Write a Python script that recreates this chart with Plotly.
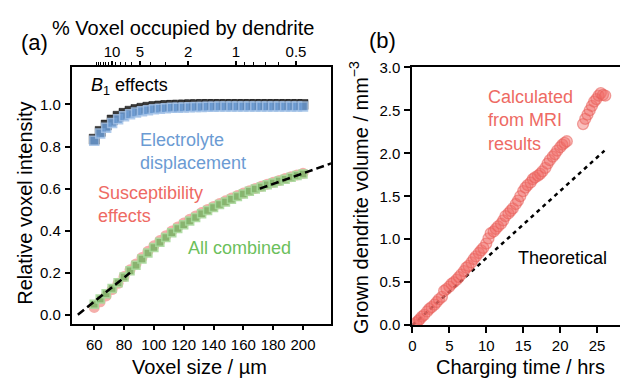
import plotly.graph_objects as go

W, H = 621, 381
FONT = "Liberation Sans, Arial, Helvetica, sans-serif"

# ---------------- Panel (a) data ----------------
voxel_size = [60, 64, 68, 72, 76, 80, 84, 88, 92, 96, 100, 104, 108, 112, 116, 120,
              124, 128, 132, 136, 140, 144, 148, 152, 156, 160, 164, 168, 172, 176,
              180, 184, 188, 192, 196, 200]
b1_effects = [0.835, 0.872, 0.902, 0.926, 0.944, 0.958, 0.968, 0.976, 0.982, 0.987,
              0.990, 0.993, 0.995, 0.996, 0.997, 0.998, 0.999, 0.999, 1.0, 1.0, 1.0,
              1.0, 1.0, 1.0, 1.0, 1.0, 1.0, 1.0, 1.0, 1.0, 1.0, 1.0, 1.0, 1.0, 1.0, 1.0]
electrolyte = [0.828, 0.862, 0.89, 0.912, 0.93, 0.944, 0.954, 0.962, 0.968, 0.973,
               0.977, 0.980, 0.982, 0.984, 0.985, 0.986, 0.987, 0.988, 0.988, 0.989,
               0.989, 0.99, 0.99, 0.99, 0.99, 0.99, 0.99, 0.99, 0.99, 0.99, 0.99, 0.99,
               0.99, 0.99, 0.99, 0.99]
susceptibility = [0.035, 0.062, 0.09, 0.12, 0.15, 0.182, 0.214, 0.242, 0.272, 0.302,
                  0.328, 0.353, 0.376, 0.398, 0.418, 0.436, 0.454, 0.47, 0.486, 0.501,
                  0.515, 0.529, 0.542, 0.555, 0.567, 0.579, 0.59, 0.601, 0.611, 0.621,
                  0.63, 0.639, 0.648, 0.657, 0.665, 0.673]
all_combined = [0.05, 0.075, 0.1, 0.125, 0.152, 0.18, 0.21, 0.236, 0.265, 0.294, 0.32,
                0.345, 0.368, 0.39, 0.41, 0.428, 0.446, 0.463, 0.48, 0.496, 0.51, 0.524,
                0.537, 0.55, 0.563, 0.575, 0.587, 0.598, 0.608, 0.618, 0.627, 0.636,
                0.645, 0.654, 0.662, 0.67]
fit_low_x = [49, 84]
fit_low_y = [0.0, 0.2]
fit_high_x = [171, 219]
fit_high_y = [0.6, 0.72]

top_tick_labels = ["10", "5", "2", "1", "0.5"]
top_tick_pct = [10, 5, 2, 1, 0.5]
top_minor_pct = [16, 15, 14, 13, 12, 11, 9, 8, 7, 6, 4, 3, 0.9, 0.8, 0.7, 0.6]
pct_scale = 155.0  # voxel size (um) at which dendrite occupies 1 %

# ---------------- Panel (b) data ----------------
charge_time = [0.2, 0.5, 0.8, 1.0, 1.3, 1.6, 2.0, 2.3, 2.6, 3.0, 3.3, 3.6, 4.0, 4.3,
               4.6, 5.0, 5.3, 5.6, 6.0, 6.3, 6.6, 7.0, 7.3, 7.6, 8.0, 8.3, 8.6, 9.0,
               9.3, 9.6, 10.0, 10.3, 10.6, 11.0, 11.3, 11.6, 12.0, 12.3, 12.6, 13.0,
               13.3, 13.6, 14.0, 14.3, 14.6, 15.0, 15.3, 15.6, 16.0, 16.3, 16.6, 17.0,
               17.3, 17.6, 18.0, 18.3, 18.6, 19.0, 19.3, 19.6, 20.0, 20.3, 20.6, 20.9,
               23.1, 23.4, 23.7, 24.0, 24.3, 24.6, 24.9, 25.2, 25.5, 25.8, 26.1]
dendrite_vol = [0.01, 0.03, 0.05, 0.07, 0.1, 0.12, 0.16, 0.19, 0.21, 0.24, 0.27, 0.3,
                0.33, 0.4, 0.42, 0.45, 0.48, 0.5, 0.53, 0.56, 0.59, 0.63, 0.67, 0.69,
                0.73, 0.77, 0.8, 0.84, 0.87, 0.9, 0.95, 1.01, 1.07, 1.09, 1.12, 1.15,
                1.18, 1.22, 1.27, 1.3, 1.33, 1.36, 1.41, 1.45, 1.5, 1.56, 1.6, 1.63,
                1.66, 1.7, 1.72, 1.74, 1.76, 1.79, 1.83, 1.88, 1.92, 1.96, 1.99, 2.03,
                2.07, 2.1, 2.12, 2.14,
                2.34, 2.4, 2.45, 2.5, 2.55, 2.6, 2.63, 2.67, 2.7, 2.68, 2.67]
theory_x = [0, 26]
theory_y = [0.0, 2.03]


def px(x):
    return min(max(x / W, 0.0), 1.0)


def py(y):
    return min(max(1 - y / H, 0.0), 1.0)


fig = go.Figure()

RED = "#ee6a63"
BLUE = "#6b9bd3"
GREEN = "#6cbf5c"

# Panel (a) traces
fig.add_trace(go.Scatter(x=voxel_size, y=b1_effects, mode="markers",
                         marker=dict(symbol="square", size=10, color="#3a3a3a",
                                     line=dict(width=0.5, color="#111111")),
                         xaxis="x", yaxis="y", showlegend=False))
fig.add_trace(go.Scatter(x=voxel_size, y=electrolyte, mode="markers",
                         marker=dict(symbol="square", size=9, color=BLUE, opacity=0.85,
                                     line=dict(width=1.5, color="#a3c2e8")),
                         xaxis="x", yaxis="y", showlegend=False))
fig.add_trace(go.Scatter(x=voxel_size, y=susceptibility, mode="markers",
                         marker=dict(symbol="circle", size=11, color="#f39b96", opacity=0.8),
                         xaxis="x", yaxis="y", showlegend=False))
fig.add_trace(go.Scatter(x=voxel_size, y=all_combined, mode="markers",
                         marker=dict(symbol="square", size=8, color="#7fb46a", opacity=0.9,
                                     line=dict(width=1.5, color="#a8da9c")),
                         xaxis="x", yaxis="y", showlegend=False))
for fx, fy in ((fit_low_x, fit_low_y), (fit_high_x, fit_high_y)):
    fig.add_trace(go.Scatter(x=fx, y=fy, mode="lines",
                             line=dict(color="black", width=2.5, dash="8px,4px"),
                             xaxis="x", yaxis="y", showlegend=False, cliponaxis=False))
# invisible trace to activate top axis
fig.add_trace(go.Scatter(x=[voxel_size[0]], y=[b1_effects[0]], mode="markers",
                         marker=dict(opacity=0), xaxis="x3", yaxis="y",
                         showlegend=False, hoverinfo="skip"))

# Panel (b) traces
fig.add_trace(go.Scatter(x=theory_x, y=theory_y, mode="lines",
                         line=dict(color="black", width=2.5, dash="4px,4px"),
                         xaxis="x2", yaxis="y2", showlegend=False))
fig.add_trace(go.Scatter(x=charge_time, y=dendrite_vol, mode="markers",
                         marker=dict(symbol="circle", size=11, color="rgba(240,105,100,0.42)",
                                     line=dict(width=1.3, color="rgba(232,95,90,0.55)")),
                         xaxis="x2", yaxis="y2", showlegend=False))

TICKFONT = dict(family=FONT, size=15, color="black")


def axis(**kw):
    base = dict(showline=True, linecolor="black", linewidth=2, ticks="outside",
                ticklen=5, tickwidth=1.5, tickcolor="black", showgrid=False,
                zeroline=False, tickfont=TICKFONT)
    base.update(kw)
    return base


fig.update_layout(
    width=W, height=H, margin=dict(l=0, r=0, t=0, b=0),
    paper_bgcolor="white", plot_bgcolor="white",
    font=dict(family=FONT, color="black"),
    xaxis=axis(domain=[px(68.3), px(329)], range=[45, 218.7], anchor="y",
               tickvals=[60, 80, 100, 120, 140, 160, 180, 200], mirror=True,
               ticklen=4, ticklabelstandoff=2),
    yaxis=axis(domain=[py(330), py(61)], range=[-0.045, 1.177], anchor="x",
               tickvals=[0, 0.2, 0.4, 0.6, 0.8, 1.0], tickformat=".1f", mirror=True,
               ticklabelstandoff=1),
    xaxis3=axis(overlaying="x", side="top", anchor="y", range=[45, 218.7],
                tickmode="array",
                tickvals=[pct_scale / p ** (1 / 3) for p in top_tick_pct],
                ticktext=top_tick_labels, ticklen=4, ticklabelstandoff=-2,
                minor=dict(tickmode="array",
                           tickvals=[pct_scale / p ** (1 / 3) for p in top_minor_pct],
                           ticks="outside", ticklen=3, tickwidth=1, tickcolor="black")),
    xaxis2=axis(domain=[px(411), px(620)], range=[0, 28.1], anchor="y2",
                tickvals=[0, 5, 10, 15, 20, 25], mirror=True, ticklen=6,
                ticklabelstandoff=0),
    yaxis2=axis(domain=[py(331), py(61)], range=[0, 3.0], anchor="x2",
                tickvals=[0, 0.5, 1.0, 1.5, 2.0, 2.5, 3.0], tickformat=".1f",
                ticklen=6, ticklabelstandoff=1),
)

ann = []


def text(x, y, s, size=18, color="black", xanchor="left", angle=0, yanchor="middle"):
    ann.append(dict(x=x / W, y=1 - y / H, xref="paper", yref="paper", text=s,
                    showarrow=False, xanchor=xanchor, yanchor=yanchor, textangle=angle,
                    font=dict(family=FONT, size=size, color=color), align="left"))


text(31, 35, "(a)", size=22, xanchor="center")
text(180, 20, "% Voxel occupied by dendrite", size=20, xanchor="center")
text(21, 203, "Relative voxel intensity", size=20, xanchor="center", angle=-90)
text(197, 388, "Voxel size / µm", size=20, xanchor="center", yanchor="bottom")
text(86, 81, "<i>B</i><sub>1</sub> effects", size=18)
text(135, 149, "Electrolyte<br>displacement", size=18, color=BLUE)
text(93, 205, "Susceptibility<br>effects", size=18, color=RED)
text(183, 250, "All combined", size=18, color=GREEN)

text(381, 33, "(b)", size=22, xanchor="center")
text(357, 197, "Grown dendrite volume / mm<sup>−3</sup>", size=20, xanchor="center",
     angle=-90)
text(520, 388, "Charging time / hrs", size=20, xanchor="center", yanchor="bottom")
text(485, 117, "Calculated<br>from MRI<br>results", size=18, color=RED)
text(515, 261, "Theoretical", size=18)

fig.update_layout(annotations=ann)
fig.write_html("out.html")
